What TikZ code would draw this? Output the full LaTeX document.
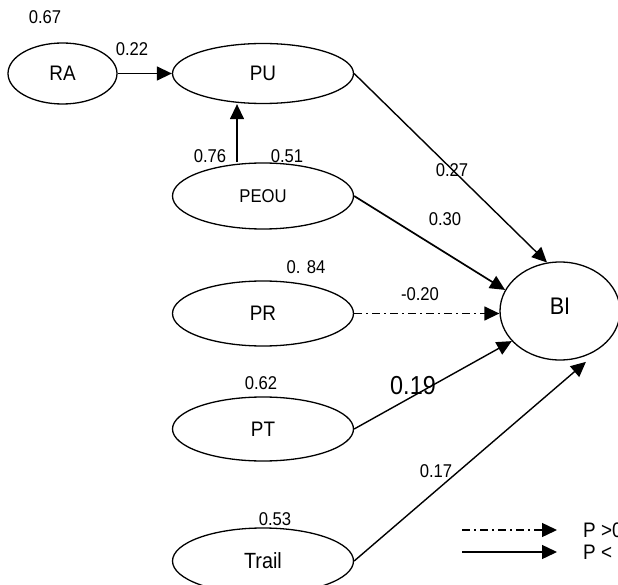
\documentclass[tikz,border=0pt]{standalone}
\usepackage{fontspec}
\setmainfont{Liberation Sans}[FakeStretch=0.9]
\usetikzlibrary{shapes.geometric,arrows.meta}
\tikzset{
  lat/.style={ellipse, draw, line width=1.3pt, inner sep=0pt, font=\fontsize{21}{23}\selectfont},
  big/.style={lat, minimum width=181pt, minimum height=64pt},
  coef/.style={inner sep=0pt, font=\fontsize{18.5}{20}\selectfont},
  path/.style={line width=1.4pt, -{Triangle[length=15pt,width=14pt]}},
  nspath/.style={path, dash pattern=on 8pt off 4pt on 2pt off 4pt},
}
\begin{document}
\begin{tikzpicture}[x=1pt,y=-1pt]
\useasboundingbox (0,0) rectangle (618,585);
\clip (0,0) rectangle (618,585);
% latent variables
\node[lat, minimum width=109pt, minimum height=61pt] (RA) at (62.5,73.5) {RA};
\node[big, minimum height=60pt] (PU) at (263,73.5) {PU};
\node[big, minimum height=66pt, font=\fontsize{18.5}{20}\selectfont] (PEOU) at (263,196) {PEOU};
\node[big, minimum height=65pt] (PR) at (263,313.5) {PR};
\node[big] (PT) at (263,429) {PT};
\node[big, minimum height=66pt, font=\fontsize{22}{24}\selectfont] (Trail) at (263,561) {Trail};
\node[lat, minimum width=120pt, minimum height=98pt, font=\fontsize{24}{26}\selectfont] (BI) at (560,311) {\raisebox{10pt}{BI}};
% paths
\draw[path] (RA.east) -- (PU.west);
\draw[path] ([xshift=-26pt]PEOU.north) -- ([xshift=-26pt]PU.south);
\draw[path] (PU.east) -- (BI.105);
\draw[path, line width=1.7pt] (PEOU.east) -- (BI.159);
\draw[nspath] (PR.east) -- (PR.east -| BI.west);
\draw[path] (PT.east) -- (BI.212);
\draw[path] (Trail.east) -- ([yshift=-6pt]BI.-60);
% coefficients
\node[coef] (c67) at (45,17) {0.67};
\node[coef] (c22) at (132,49) {0.22};
\node[coef] (c76) at (210,156) {0.76};
\node[coef] (c51) at (287,156) {0.51};
\node[coef] (c27) at (452,170) {0.27};
\node[coef] (c30) at (445,219) {0.30};
\node[coef] (c84) at (306,267) {0. 84};
\node[coef] (c20) at (420,294) {-0.20};
\node[coef] (c62) at (261,383) {0.62};
\node[coef, font=\fontsize{26}{28}\selectfont] (c19) at (413,386) {0.19};
\node[coef] (c17) at (436,471) {0.17};
\node[coef] (c53) at (275,519) {0.53};
% legend
\coordinate (l1a) at (462,530);
\coordinate (l1b) at (557,530);
\coordinate (l2a) at (462,552);
\coordinate (l2b) at (557,552);
\draw[nspath] (l1a) -- (l1b);
\draw[path] (l2a) -- (l2b);
\node[coef, anchor=west, font=\fontsize{21}{23}\selectfont] (leg1) at (583,530) {P >0.05};
\node[coef, anchor=west, font=\fontsize{21}{23}\selectfont] (leg2) at (583,552) {P < 0.05};
\end{tikzpicture}
\end{document}
